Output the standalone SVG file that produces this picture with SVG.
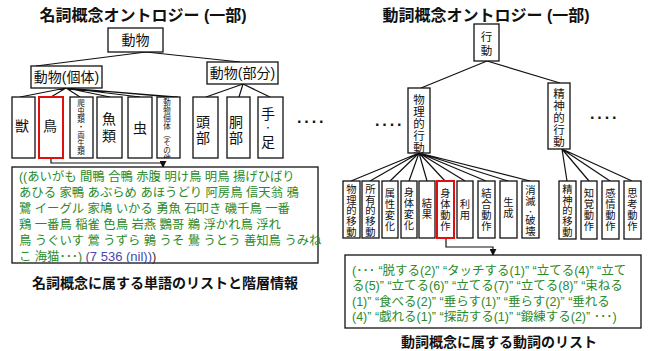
<svg xmlns="http://www.w3.org/2000/svg" width="649" height="351" viewBox="0 0 649 351">
<style>
text{font-family:"Liberation Sans","Noto Sans CJK JP",sans-serif;fill:#111}
.title{font-size:16px;font-weight:bold}
.cap{font-size:14px;font-weight:bold}
.box{fill:#fff;stroke:#111;stroke-width:1.3}
.red{fill:#fff;stroke:#e01010;stroke-width:2}
.n{font-size:14px}
.v{font-size:11.5px;text-anchor:middle}
.s{font-size:10.3px;text-anchor:middle}
.t{font-size:7.5px;text-anchor:middle}
.g{font-size:12.35px;fill:#2a8a2a}
.gr{font-size:12.5px;fill:#2a8a2a}
.b{fill:#4848aa;font-size:13px}
.dots{font-size:16px;letter-spacing:2px;font-weight:bold}
.ln{stroke:#111;stroke-width:1.2;fill:none}
</style>
<defs>
<marker id="ah" viewBox="0 0 8 8" refX="7" refY="4" markerWidth="7" markerHeight="7" orient="auto" markerUnits="userSpaceOnUse">
<path d="M0,0 L8,4 L0,8 Z" fill="#111"/>
</marker>
<clipPath id="cl1"><rect x="157" y="97" width="23" height="61"/></clipPath>
</defs>

<text class="title" x="143" y="21" text-anchor="middle">名詞概念オントロジー (一部)</text>
<text class="title" x="486" y="21" text-anchor="middle">動詞概念オントロジー (一部)</text>

<g id="connectors">
<path class="ln" d="M146,52 L36,66 M146,52 L240,62"/>
<path class="ln" d="M66,88 L20,97 M66,88 L51,97 M66,88 L80,97 M66,88 L110,97 M66,88 L140,97 M66,88 L170,97 M66,88 L178,97"/>
<path class="ln" d="M243,84 L206,97 M243,84 L239,97 M243,84 L270,97"/>
<path class="ln" d="M51,158 L51,163 L163,163 L163,167" marker-end="url(#ah)"/>
<path class="ln" d="M487,61 L421,88 M487,61 L560,83"/>
<path class="ln" d="M419,153 L351,181 M419,153 L370,181 M419,153 L390,181 M419,153 L409,181 M419,153 L427,181 M419,153 L445,181 M419,153 L465,181 M419,153 L486,181 M419,153 L508,181 M419,153 L530,181"/>
<path class="ln" d="M562,149 L567,181 M562,149 L589,181 M562,149 L610,181 M562,149 L632,181"/>
<path class="ln" d="M446,238 L446,247 L493,247 L493,255" marker-end="url(#ah)"/>
</g>

<g id="n-dobutsu"><rect class="box" x="108" y="28" width="55" height="24"/><text class="n" x="135.5" y="45" text-anchor="middle" font-size="15">動物</text></g>
<g id="n-kotai"><rect class="box" x="31" y="66" width="71" height="22"/><text class="n" x="66.5" y="82" text-anchor="middle">動物(個体)</text></g>
<g id="n-bubun"><rect class="box" x="207" y="62" width="71" height="22"/><text class="n" x="242.5" y="78" text-anchor="middle">動物(部分)</text></g>

<g id="n-kemono"><rect class="box" x="12" y="97" width="23" height="61"/><text class="n" x="22" y="131" text-anchor="middle">獣</text></g>
<g id="n-tori"><rect class="red" x="39" y="97" width="24" height="61"/><text class="n" x="50" y="131" text-anchor="middle" font-size="15">鳥</text></g>
<g id="n-hachu"><rect class="box" x="70" y="97" width="23" height="61"/><text class="t"><tspan x="81" y="106">爬</tspan><tspan x="81" y="114">虫</tspan><tspan x="81" y="122">類</tspan><tspan x="81" y="130">・</tspan><tspan x="81" y="138">両</tspan><tspan x="81" y="146">生</tspan><tspan x="81" y="154">類</tspan></text></g>
<g id="n-sakana"><rect class="box" x="97" y="97" width="25" height="61"/><text class="n" font-size="15" text-anchor="middle"><tspan x="109" y="124">魚</tspan><tspan x="109" y="141">類</tspan></text></g>
<g id="n-mushi"><rect class="box" x="128" y="97" width="24" height="61"/><text class="n" x="140" y="133" text-anchor="middle">虫</text></g>
<g id="n-sonota"><rect class="box" x="157" y="97" width="23" height="61"/><text class="t" clip-path="url(#cl1)"><tspan x="167" y="105">動</tspan><tspan x="167" y="113">物</tspan><tspan x="167" y="121">個</tspan><tspan x="167" y="129">体</tspan><tspan x="167" y="137">︵</tspan><tspan x="167" y="145">そ</tspan><tspan x="167" y="153">の</tspan><tspan x="167" y="161">他</tspan></text></g>
<g id="n-tobu"><rect class="box" x="193" y="97" width="25" height="61"/><text class="n" font-size="15" text-anchor="middle"><tspan x="203" y="127">頭</tspan><tspan x="203" y="143">部</tspan></text></g>
<g id="n-dobu"><rect class="box" x="227" y="97" width="23" height="61"/><text class="n" font-size="15" text-anchor="middle"><tspan x="236" y="127">胴</tspan><tspan x="236" y="143">部</tspan></text></g>
<g id="n-teashi"><rect class="box" x="258" y="97" width="25" height="61"/><text class="n" font-size="15" text-anchor="middle"><tspan x="268" y="119">手</tspan><tspan x="268" y="131" font-size="8">・</tspan><tspan x="268" y="147">足</tspan></text></g>
<text class="dots" x="297" y="127">····</text>

<g id="n-list1"><rect class="box" x="12" y="167" width="306" height="96"/>
<text class="g"><tspan x="19" y="180.5">((あいがも 間鴨 合鴨 赤腹 明け鳥 明鳥 揚げひばり</tspan><tspan x="19" y="196.6">あひる 家鴨 あぶらめ あほうどり 阿房鳥 信天翁 鴉</tspan><tspan x="19" y="212.7">鷺 イーグル 家鳩 いかる 勇魚 石叩き 磯千鳥 一番</tspan><tspan x="19" y="228.8">鶏 一番鳥 稲雀 色鳥 岩燕 鸚哥 鵜 浮かれ鳥 浮れ</tspan><tspan x="19" y="244.9">鳥 うぐいす 鶯 うずら 鶉 うそ 鷽 うとう 善知鳥 うみね</tspan><tspan x="19" y="261">こ 海猫･･･) <tspan class="b">(7 536 (nil))</tspan><tspan fill="#333" font-size="13">)</tspan></tspan></text></g>
<text class="cap" x="165" y="288" text-anchor="middle">名詞概念に属する単語のリストと階層情報</text>

<g id="n-kodo"><rect class="box" x="474" y="24" width="25" height="37"/><text class="v" font-size="12.5"><tspan x="486.5" y="41">行</tspan><tspan x="486.5" y="55">動</tspan></text></g>
<g id="n-butsuri"><rect class="box" x="408" y="88" width="22" height="65"/><text class="v"><tspan x="419" y="103.5">物</tspan><tspan x="419" y="115.5">理</tspan><tspan x="419" y="127.5">的</tspan><tspan x="419" y="139.5">行</tspan><tspan x="419" y="151.5">動</tspan></text></g>
<g id="n-seishin"><rect class="box" x="548" y="83" width="22" height="66"/><text class="v"><tspan x="559" y="97.5">精</tspan><tspan x="559" y="109.5">神</tspan><tspan x="559" y="121.5">的</tspan><tspan x="559" y="133.5">行</tspan><tspan x="559" y="145.5">動</tspan></text></g>
<text class="dots" x="375" y="130">····</text>
<text class="dots" x="590" y="123">····</text>

<g id="c1"><rect class="box" x="343" y="181" width="17" height="57"/><text class="s"><tspan x="351.5" y="193">物</tspan><tspan x="351.5" y="203.7">理</tspan><tspan x="351.5" y="214.4">的</tspan><tspan x="351.5" y="225.1">移</tspan><tspan x="351.5" y="235.8">動</tspan></text></g>
<g id="c2"><rect class="box" x="362" y="181" width="17" height="57"/><text class="s"><tspan x="370.5" y="193">所</tspan><tspan x="370.5" y="203.7">有</tspan><tspan x="370.5" y="214.4">的</tspan><tspan x="370.5" y="225.1">移</tspan><tspan x="370.5" y="235.8">動</tspan></text></g>
<g id="c3"><rect class="box" x="382" y="181" width="16" height="57"/><text class="s"><tspan x="390" y="197">属</tspan><tspan x="390" y="208">性</tspan><tspan x="390" y="219">変</tspan><tspan x="390" y="230">化</tspan></text></g>
<g id="c4"><rect class="box" x="401" y="181" width="16" height="57"/><text class="s"><tspan x="409" y="196">身</tspan><tspan x="409" y="207">体</tspan><tspan x="409" y="218">変</tspan><tspan x="409" y="229">化</tspan></text></g>
<g id="c5"><rect class="box" x="419" y="181" width="16" height="57"/><text class="s"><tspan x="427" y="207">結</tspan><tspan x="427" y="218">果</tspan></text></g>
<g id="c6"><rect class="red" x="437" y="181" width="17" height="57"/><text class="s"><tspan x="445.5" y="197">身</tspan><tspan x="445.5" y="208">体</tspan><tspan x="445.5" y="219">動</tspan><tspan x="445.5" y="230">作</tspan></text></g>
<g id="c7"><rect class="box" x="457" y="181" width="16" height="57"/><text class="s"><tspan x="465" y="208">利</tspan><tspan x="465" y="219">用</tspan></text></g>
<g id="c8"><rect class="box" x="478" y="181" width="17" height="57"/><text class="s"><tspan x="486.5" y="197">結</tspan><tspan x="486.5" y="208">合</tspan><tspan x="486.5" y="219">動</tspan><tspan x="486.5" y="230">作</tspan></text></g>
<g id="c9"><rect class="box" x="500" y="181" width="17" height="57"/><text class="s"><tspan x="508.5" y="206">生</tspan><tspan x="508.5" y="217">成</tspan></text></g>
<g id="c10"><rect class="box" x="522" y="181" width="17" height="57"/><text class="s"><tspan x="530.5" y="194">消</tspan><tspan x="530.5" y="205">滅</tspan><tspan x="530.5" y="213.5" font-size="7">・</tspan><tspan x="530.5" y="224">破</tspan><tspan x="530.5" y="235">壊</tspan></text></g>
<g id="c11"><rect class="box" x="559" y="181" width="17" height="58"/><text class="s"><tspan x="567.5" y="193">精</tspan><tspan x="567.5" y="203.7">神</tspan><tspan x="567.5" y="214.4">的</tspan><tspan x="567.5" y="225.1">移</tspan><tspan x="567.5" y="235.8">動</tspan></text></g>
<g id="c12"><rect class="box" x="581" y="181" width="16" height="58"/><text class="s"><tspan x="589" y="197">知</tspan><tspan x="589" y="208">覚</tspan><tspan x="589" y="219">動</tspan><tspan x="589" y="230">作</tspan></text></g>
<g id="c13"><rect class="box" x="602" y="181" width="17" height="58"/><text class="s"><tspan x="610.5" y="197">感</tspan><tspan x="610.5" y="208">情</tspan><tspan x="610.5" y="219">動</tspan><tspan x="610.5" y="230">作</tspan></text></g>
<g id="c14"><rect class="box" x="624" y="181" width="17" height="58"/><text class="s"><tspan x="632.5" y="197">思</tspan><tspan x="632.5" y="208">考</tspan><tspan x="632.5" y="219">動</tspan><tspan x="632.5" y="230">作</tspan></text></g>

<g id="n-list2"><rect class="box" x="345" y="255" width="296" height="73"/>
<text class="gr"><tspan x="352" y="274.5">(･･･ “脱する(2)” “タッチする(1)” “立てる(4)” “立て</tspan><tspan x="352" y="290">る(5)” “立てる(6)” “立てる(7)” “立てる(8)” “束ねる</tspan><tspan x="352" y="305.5">(1)” “食べる(2)” “垂らす(1)” “垂らす(2)” “垂れる</tspan><tspan x="352" y="321">(4)” “戯れる(1)” “探訪する(1)” “鍛練する(2)” ･･･)</tspan></text></g>
<text class="cap" x="499" y="347" text-anchor="middle">動詞概念に属する動詞のリスト</text>
</svg>
